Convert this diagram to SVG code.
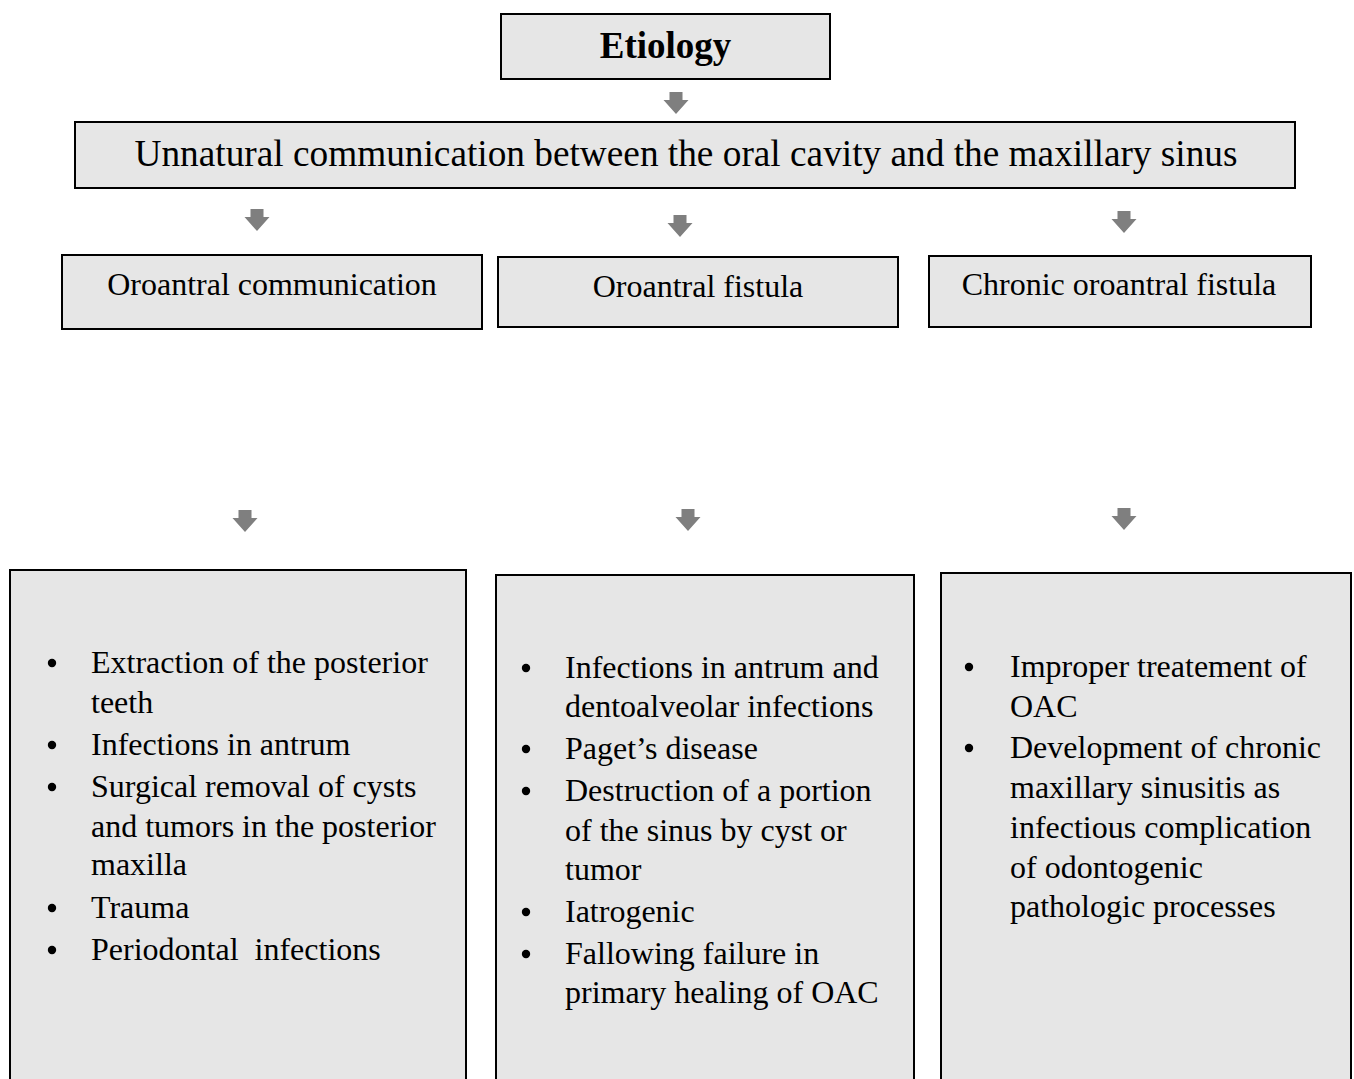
<svg xmlns="http://www.w3.org/2000/svg" width="1354" height="1079" viewBox="0 0 1354 1079">
<style>
.box{fill:#e6e6e6;stroke:#000;stroke-width:2}
text{font-family:"Liberation Serif","Times New Roman",serif;fill:#000}
.t{font-size:32px}
.b{font-size:32px}
.arr{fill:#7f7f7f}
</style>
<defs>
<path id="ar" d="M-6.5,0 H6.5 V8 H12.5 L0,22 L-12.5,8 H-6.5 Z"/>
<circle id="dot" r="4.2" fill="#000"/>
</defs>
<rect width="1354" height="1079" fill="#fff"/>
<g id="connectors" class="arr">
<use href="#ar" x="676" y="92"/>
<use href="#ar" x="257" y="209"/>
<use href="#ar" x="680" y="215"/>
<use href="#ar" x="1124" y="211"/>
<use href="#ar" x="245" y="510"/>
<use href="#ar" x="688" y="509"/>
<use href="#ar" x="1124" y="508"/>
</g>
<g id="etiology"><rect class="box" x="501" y="14" width="329" height="65"/><text x="665.5" y="58" text-anchor="middle" font-size="37" font-weight="bold">Etiology</text></g>
<g id="unnatural"><rect class="box" x="75" y="122" width="1220" height="66"/><text x="686" y="166" text-anchor="middle" font-size="37.3">Unnatural communication between the oral cavity and the maxillary sinus</text></g>
<g id="oac"><rect class="box" x="62" y="255" width="420" height="74"/><text class="t" x="272" y="295" text-anchor="middle">Oroantral communication</text></g>
<g id="oaf"><rect class="box" x="498" y="257" width="400" height="70"/><text class="t" x="698" y="297" text-anchor="middle">Oroantral fistula</text></g>
<g id="coaf"><rect class="box" x="929" y="256" width="382" height="71"/><text class="t" x="1119" y="295" text-anchor="middle">Chronic oroantral fistula</text></g>
<g id="list1"><rect class="box" x="10" y="570" width="456" height="520"/>
<use href="#dot" x="52" y="663"/><text class="b" x="91" y="673">Extraction of the posterior</text>
<text class="b" x="91" y="713">teeth</text>
<use href="#dot" x="52" y="745"/><text class="b" x="91" y="755">Infections in antrum</text>
<use href="#dot" x="52" y="787"/><text class="b" x="91" y="797">Surgical removal of cysts</text>
<text class="b" x="91" y="837">and tumors in the posterior</text>
<text class="b" x="91" y="875">maxilla</text>
<use href="#dot" x="52" y="908"/><text class="b" x="91" y="918">Trauma</text>
<use href="#dot" x="52" y="950"/><text class="b" x="91" y="960" xml:space="preserve">Periodontal  infections</text>
</g>
<g id="list2"><rect class="box" x="496" y="575" width="418" height="520"/>
<use href="#dot" x="526" y="668"/><text class="b" x="565" y="678">Infections in antrum and</text>
<text class="b" x="565" y="717">dentoalveolar infections</text>
<use href="#dot" x="526" y="749"/><text class="b" x="565" y="759">Paget’s disease</text>
<use href="#dot" x="526" y="791"/><text class="b" x="565" y="801">Destruction of a portion</text>
<text class="b" x="565" y="841">of the sinus by cyst or</text>
<text class="b" x="565" y="880">tumor</text>
<use href="#dot" x="526" y="912"/><text class="b" x="565" y="922">Iatrogenic</text>
<use href="#dot" x="526" y="954"/><text class="b" x="565" y="964">Fallowing failure in</text>
<text class="b" x="565" y="1003">primary healing of OAC</text>
</g>
<g id="list3"><rect class="box" x="941" y="573" width="410" height="520"/>
<use href="#dot" x="969" y="667"/><text class="b" x="1010" y="677">Improper treatement of</text>
<text class="b" x="1010" y="717">OAC</text>
<use href="#dot" x="969" y="748"/><text class="b" x="1010" y="758">Development of chronic</text>
<text class="b" x="1010" y="798">maxillary sinusitis as</text>
<text class="b" x="1010" y="838">infectious complication</text>
<text class="b" x="1010" y="878">of odontogenic</text>
<text class="b" x="1010" y="917">pathologic processes</text>
</g>
</svg>
